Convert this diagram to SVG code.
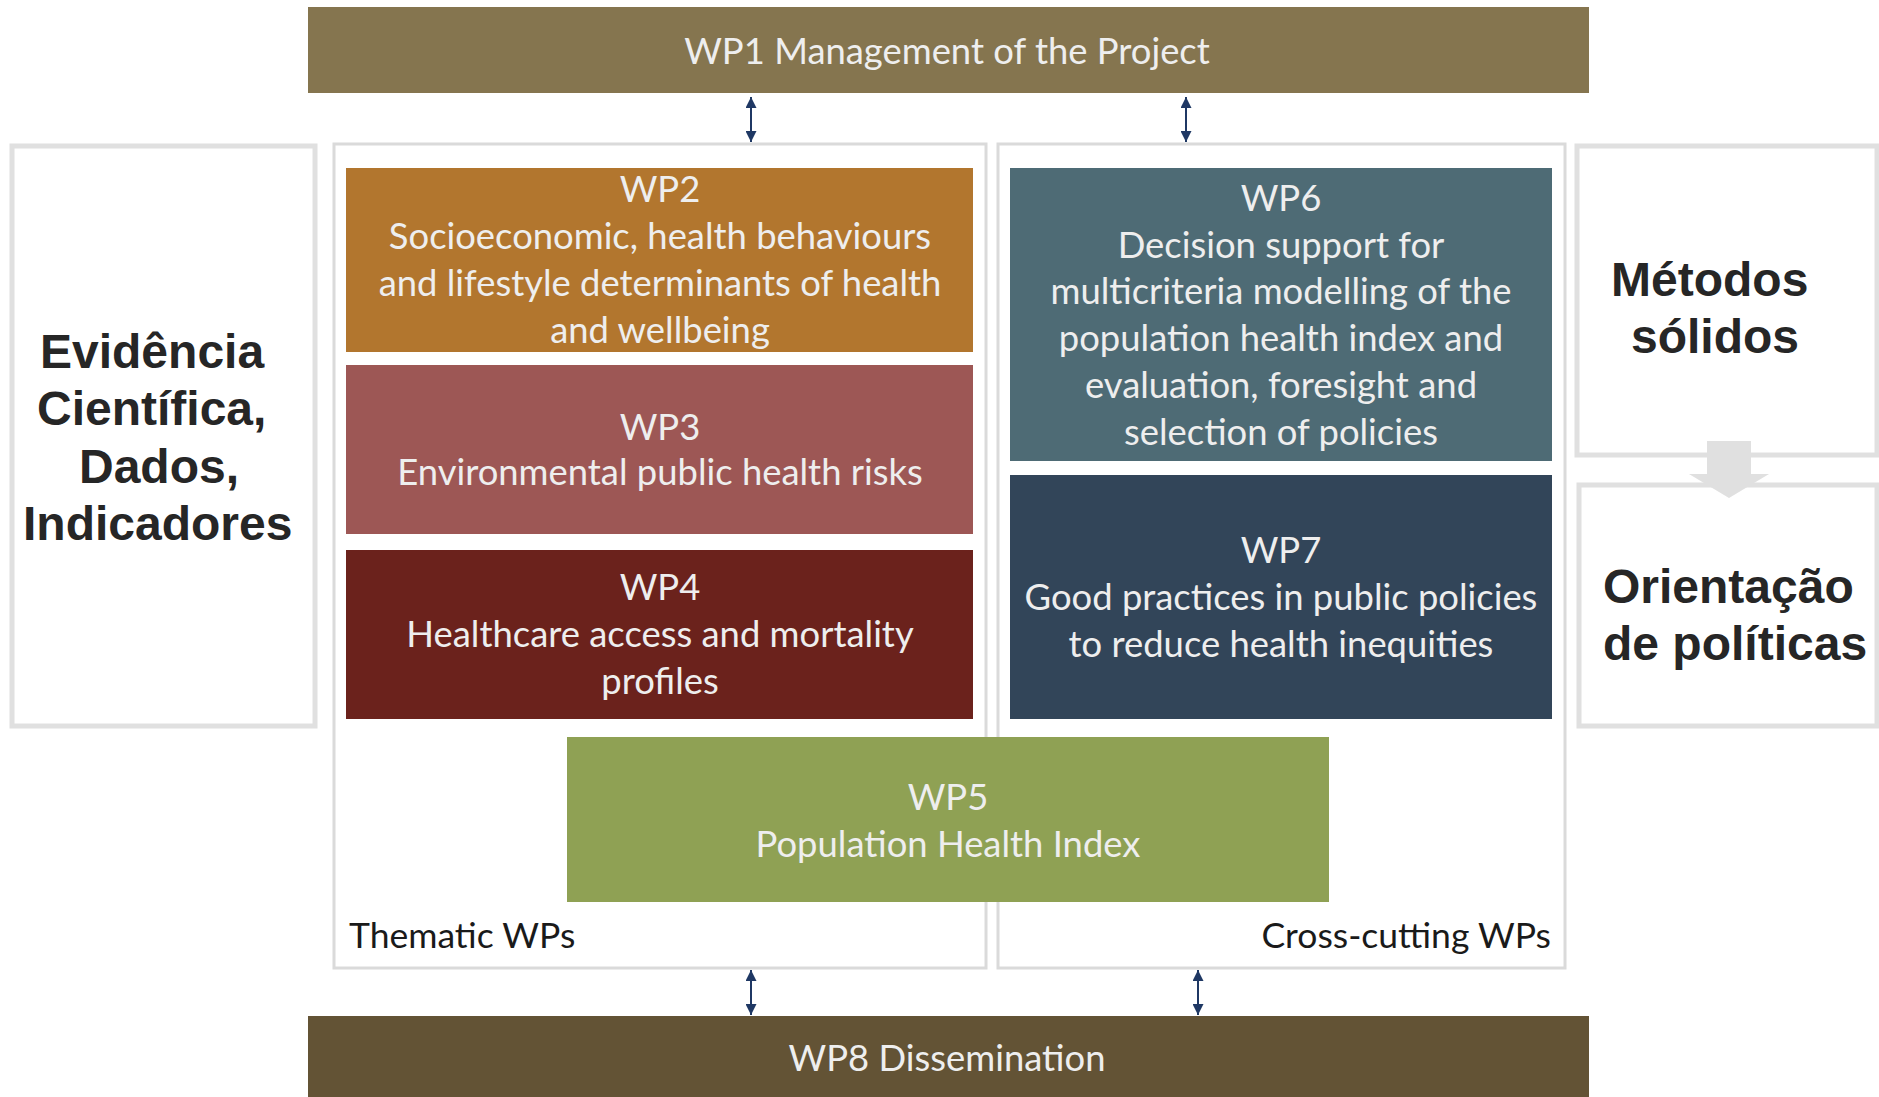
<svg xmlns="http://www.w3.org/2000/svg" width="1879" height="1097" viewBox="0 0 1879 1097">
<style>
.wp{font-family:Lato,"Open Sans",sans-serif;font-size:36.4px;fill:#eeeeee;text-anchor:middle}
.lbl{font-family:Lato,"Open Sans",sans-serif;font-size:35.5px;fill:#1a1a1a}
.big{font-family:"Liberation Sans",Arial,sans-serif;font-weight:bold;font-size:48px;fill:#262626}
.side{fill:#fff;stroke:#e0e0e0;stroke-width:5}
.cont{fill:#fff;stroke:#dadada;stroke-width:3}
.conn{stroke:#1f3864;stroke-width:2;fill:none;marker-start:url(#ah);marker-end:url(#ah)}
</style>
<defs>
<marker id="ah" viewBox="0 0 10 10" refX="10" refY="5" markerWidth="5.5" markerHeight="5.5" orient="auto-start-reverse" markerUnits="strokeWidth">
<path d="M0,0 L10,5 L0,10 z" fill="#1f3864"/>
</marker>
</defs>
<rect width="1879" height="1097" fill="#fff"/>

<g id="wp1">
<rect x="308" y="7" width="1281" height="86" fill="#85754f"/>
<text class="wp" x="947" y="64">WP1 Management of the Project</text>
</g>

<g id="evidencia">
<rect class="side" x="12" y="146" width="303" height="580"/>
<text class="big" x="40" y="368">Evidência</text>
<text class="big" x="37" y="425">Científica,</text>
<text class="big" x="79" y="483">Dados,</text>
<text class="big" x="23" y="540">Indicadores</text>
</g>

<g id="thematic">
<rect class="cont" x="334" y="144" width="652" height="824"/>
<text class="lbl" x="349" y="948">Thematic WPs</text>
</g>

<g id="crosscutting">
<rect class="cont" x="998" y="144" width="567" height="824"/>
<text class="lbl" x="1551" y="948" text-anchor="end">Cross-cutting WPs</text>
</g>

<g id="metodos">
<rect class="side" x="1577" y="146" width="300" height="309"/>
<text class="big" x="1611" y="296">Métodos</text>
<text class="big" x="1631" y="353">sólidos</text>
</g>

<g id="orientacao">
<rect class="side" x="1579" y="485" width="298" height="241"/>
<text class="big" x="1603" y="603">Orientação</text>
<text class="big" x="1603" y="660">de políticas</text>
</g>

<g id="wp2">
<rect x="346" y="168" width="627" height="184" fill="#b2762e"/>
<text class="wp" x="660" y="202">WP2</text>
<text class="wp" x="660" y="249">Socioeconomic, health behaviours</text>
<text class="wp" x="660" y="296">and lifestyle determinants of health</text>
<text class="wp" x="660" y="343">and wellbeing</text>
</g>

<g id="wp3">
<rect x="346" y="365" width="627" height="169" fill="#9d5755"/>
<text class="wp" x="660" y="440">WP3</text>
<text class="wp" x="660" y="485">Environmental public health risks</text>
</g>

<g id="wp4">
<rect x="346" y="550" width="627" height="169" fill="#6b221c"/>
<text class="wp" x="660" y="600">WP4</text>
<text class="wp" x="660" y="647">Healthcare access and mortality</text>
<text class="wp" x="660" y="694">profiles</text>
</g>

<g id="wp6">
<rect x="1010" y="168" width="542" height="293" fill="#4e6b75"/>
<text class="wp" x="1281" y="211">WP6</text>
<text class="wp" x="1281" y="258">Decision support for</text>
<text class="wp" x="1281" y="304">multicriteria modelling of the</text>
<text class="wp" x="1281" y="351">population health index and</text>
<text class="wp" x="1281" y="398">evaluation, foresight and</text>
<text class="wp" x="1281" y="445">selection of policies</text>
</g>

<g id="wp7">
<rect x="1010" y="475" width="542" height="244" fill="#324559"/>
<text class="wp" x="1281" y="563">WP7</text>
<text class="wp" x="1281" y="610">Good practices in public policies</text>
<text class="wp" x="1281" y="657">to reduce health inequities</text>
</g>

<g id="wp5">
<rect x="567" y="737" width="762" height="165" fill="#8fa154"/>
<text class="wp" x="948" y="810">WP5</text>
<text class="wp" x="948" y="857">Population Health Index</text>
</g>

<g id="wp8">
<rect x="308" y="1016" width="1281" height="81" fill="#635335"/>
<text class="wp" x="947" y="1071">WP8 Dissemination</text>
</g>

<g id="connectors">
<line class="conn" x1="751" y1="97" x2="751" y2="142"/>
<line class="conn" x1="1186" y1="97" x2="1186" y2="142"/>
<line class="conn" x1="751" y1="970" x2="751" y2="1015"/>
<line class="conn" x1="1198" y1="970" x2="1198" y2="1015"/>
<path d="M1707,441 H1751 V474 H1769 L1729,498 L1689,474 H1707 Z" fill="#e0e0e0"/>
</g>
</svg>
